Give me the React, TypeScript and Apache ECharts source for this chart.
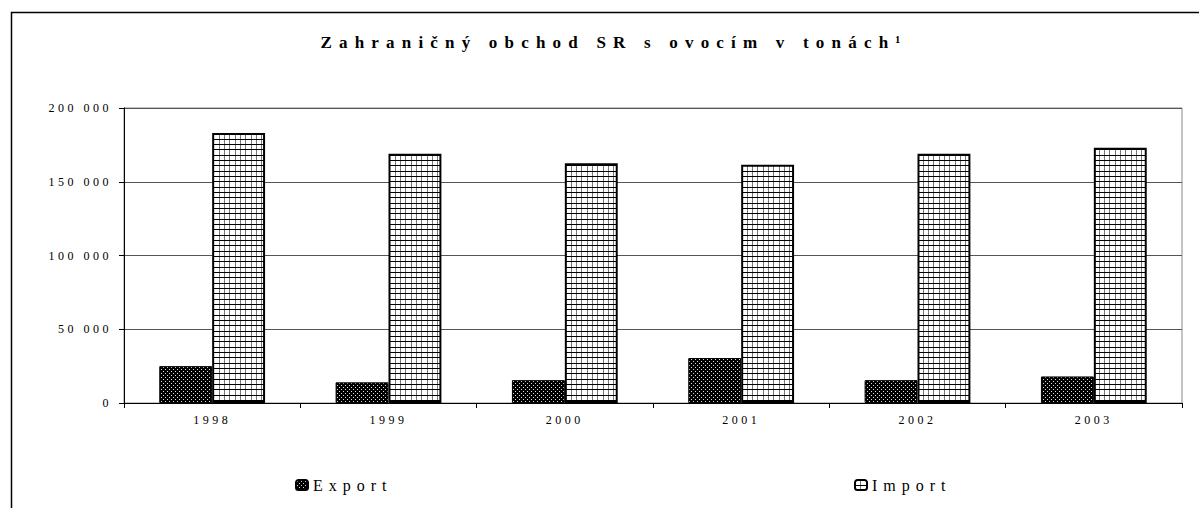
import React, { useEffect, useRef } from 'react';
import * as echarts from 'echarts';

const categories = ['1998', '1999', '2000', '2001', '2002', '2003'];
const exportTons = [25000, 14000, 15500, 30500, 15500, 18000];
const importTons = [183000, 169000, 162500, 161500, 169000, 173000];
const seriesNames = ['Export', 'Import'];
const titleText = 'Zahraničný obchod SR s ovocím v tonách¹';
const yMin = 0;
const yMax = 200000;
const yInterval = 50000;

const FONT = '"Liberation Serif", "Times New Roman", serif';

function makeExportPattern(): HTMLCanvasElement {
  const c = document.createElement('canvas');
  c.width = 4;
  c.height = 4;
  const ctx = c.getContext('2d')!;
  ctx.fillStyle = '#000';
  ctx.fillRect(0, 0, 4, 4);
  ctx.fillStyle = '#d8d8d8';
  ctx.fillRect(1, 1, 1, 1);
  ctx.fillRect(3, 3, 1, 1);
  return c;
}

function makeImportPattern(): HTMLCanvasElement {
  const c = document.createElement('canvas');
  c.width = 16;
  c.height = 16;
  const ctx = c.getContext('2d')!;
  ctx.fillStyle = '#fff';
  ctx.fillRect(0, 0, 16, 16);
  ctx.fillStyle = '#777';
  [0, 5, 11].forEach((p) => ctx.fillRect(p, 0, 1, 16));
  ctx.fillStyle = '#000';
  [0, 5, 11].forEach((p) => ctx.fillRect(0, p, 16, 1));
  return c;
}

function fmt(v: number): string {
  return String(v).replace(/\B(?=(\d{3})+(?!\d))/g, ' ');
}

export default function App() {
  const ref = useRef<HTMLDivElement>(null);
  useEffect(() => {
    if (!ref.current) return;
    const chart = echarts.init(ref.current, undefined, { renderer: 'svg' });
    const expPat = makeExportPattern();
    const impPat = makeImportPattern();
    const legendBase = {
      orient: 'horizontal',
      top: 472,
      itemWidth: 12,
      itemHeight: 10,
      textStyle: { fontFamily: FONT, fontSize: 16, color: '#000' },
    };
    chart.setOption({
      animation: false,
      backgroundColor: '#fff',
      grid: {
        left: 124,
        right: 17,
        top: 108,
        bottom: 105,
        show: true,
        borderColor: '#888',
        borderWidth: 1,
      },
      legend: [
        { ...legendBase, data: [seriesNames[0]], left: 290 },
        { ...legendBase, data: [seriesNames[1]], left: 849 },
      ],
      xAxis: {
        type: 'category',
        data: categories,
        boundaryGap: true,
        axisLine: { lineStyle: { color: '#000', width: 1 } },
        axisTick: { show: true, length: 5, lineStyle: { color: '#000' } },
        axisLabel: { fontFamily: FONT, fontSize: 12, color: '#000', margin: 11 },
      },
      yAxis: {
        type: 'value',
        min: yMin,
        max: yMax,
        interval: yInterval,
        axisLine: { show: true, lineStyle: { color: '#000', width: 1 } },
        axisTick: { show: true, inside: false, length: 5, lineStyle: { color: '#000' } },
        axisLabel: {
          fontFamily: FONT,
          fontSize: 12,
          color: '#000',
          margin: 12,
          formatter: (v: number) => fmt(v),
        },
        splitLine: { show: true, lineStyle: { color: '#555', width: 1 } },
      },
      series: [
        {
          name: seriesNames[0],
          type: 'bar',
          data: exportTons,
          barGap: '0%',
          barCategoryGap: '40%',
          itemStyle: {
            color: { image: expPat, repeat: 'repeat', imageWidth: 4, imageHeight: 4 },
            borderColor: '#000',
            borderWidth: 1,
          },
        },
        {
          name: seriesNames[1],
          type: 'bar',
          data: importTons,
          barGap: '0%',
          barCategoryGap: '40%',
          itemStyle: {
            color: { image: impPat, repeat: 'repeat', imageWidth: 16, imageHeight: 16 },
            borderColor: '#000',
            borderWidth: 2,
          },
        },
      ],
      graphic: [
        {
          type: 'polyline',
          silent: true,
          shape: { points: [[11.5, 520], [11.5, 12.5], [1220, 12.5]] },
          style: { stroke: '#000', lineWidth: 1.5, fill: 'none' },
        },
        {
          type: 'text',
          x: 614,
          y: 42,
          style: {
            text: titleText,
            fontFamily: FONT,
            fontSize: 17,
            fontWeight: 'bold',
            fill: '#000',
            align: 'center',
            verticalAlign: 'middle',
          },
        },
      ],
    });
    const svg = ref.current.querySelector('svg');
    if (svg) {
      svg.querySelectorAll('text').forEach((t) => {
        const s = t.textContent || '';
        if (s === titleText) t.setAttribute('letter-spacing', '7.2');
        else if (seriesNames.includes(s)) t.setAttribute('letter-spacing', '6');
        else t.setAttribute('letter-spacing', '3.5');
      });
    }
    return () => chart.dispose();
  }, []);
  return (
    <div
      ref={ref}
      style={{ position: 'absolute', left: 0, top: 0, width: 1199, height: 508 }}
    />
  );
}
